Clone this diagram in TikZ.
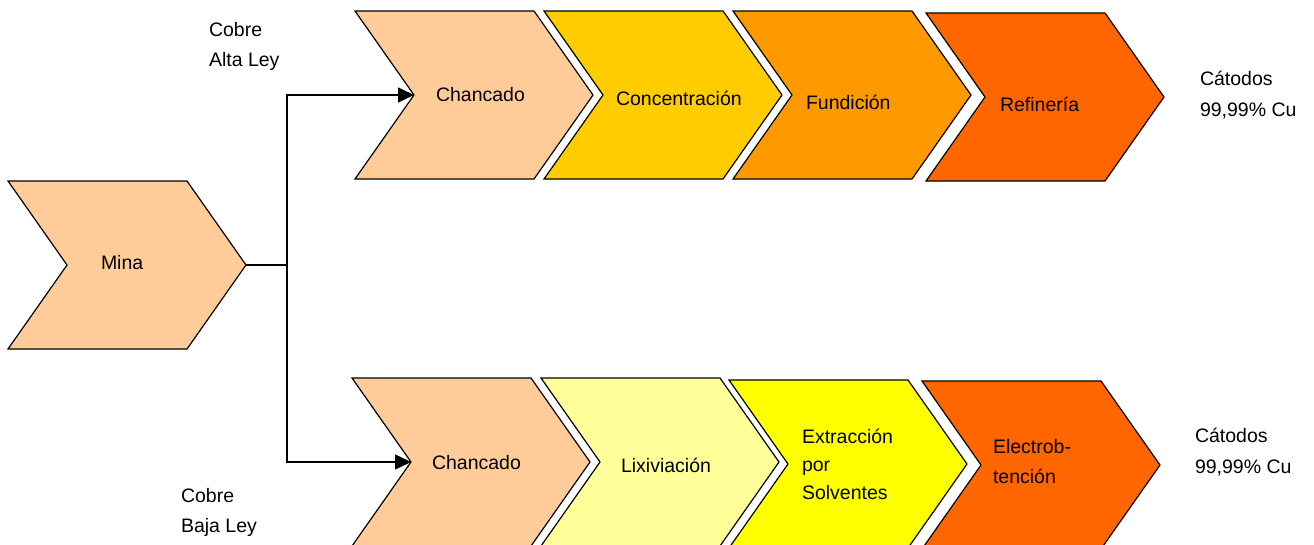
\documentclass[tikz,border=0pt]{standalone}
\usepackage{fontspec}
\setmainfont{Liberation Sans}
\usetikzlibrary{arrows.meta}

\definecolor{peach}{HTML}{FFCC99}
\definecolor{gold}{HTML}{FFCC00}
\definecolor{amber}{HTML}{FF9900}
\definecolor{flame}{HTML}{FF6600}
\definecolor{paleyellow}{HTML}{FFFF99}
\definecolor{brightyellow}{HTML}{FFFF00}

\tikzset{
  % chevron of width 238, notch depth 59, height 168; origin = top-left corner
  pics/chevron/.style={code={
    \path[draw=black, line width=1.2pt, line join=miter, fill=#1]
      (0,0) -- (179,0) -- (238,84) -- (179,168) -- (0,168) -- (59,84) -- cycle;
    \coordinate (-n) at (59,84);
    \coordinate (-t) at (238,84);
  }},
  % base anchor of a multi-line label sits on its last line
  lbl/.style={font=\fontsize{19.5}{30}\selectfont, inner sep=0pt, outer sep=0pt,
              anchor=base west, align=left},
  conn/.style={line width=1.5pt, draw=black},
  feed/.style={conn, -{Triangle[length=16pt,width=15pt]}},
}

\begin{document}
\begin{tikzpicture}[x=1pt,y=-1pt]
\useasboundingbox (0,0) rectangle (1314,544);
\clip (0,0) rectangle (1314,544);

% source
\pic (mina) at (8,181) {chevron=peach};
\node[lbl] (tmina) at (101,269) {Mina};

% high-grade route
\pic (ca) at (355,11) {chevron=peach};
\pic (co) at (544,11) {chevron=gold};
\pic (fu) at (733,11) {chevron=amber};
\pic (re) at (926,13) {chevron=flame};
\node[lbl] (tca) at (436,101) {Chancado};
\node[lbl] (tco) at (616,105) {Concentración};
\node[lbl] (tfu) at (806,109) {Fundición};
\node[lbl] (tre) at (1000,111) {Refinería};

% low-grade route
\pic (cb) at (352,378) {chevron=peach};
\pic (li) at (541,378) {chevron=paleyellow};
\pic (ex) at (729,380) {chevron=brightyellow};
\pic (el) at (922,381) {chevron=flame};
\node[lbl] (tcb) at (432,469) {Chancado};
\node[lbl] (tli) at (621,472) {Lixiviación};
\node[lbl, font=\fontsize{19.5}{28}\selectfont] (tex) at (802,499) {Extracción\\por\\Solventes};
\node[lbl] (tel) at (993,483) {Electrob-\\tención};

% side labels
\node[lbl] (alta) at (209,66) {Cobre\\Alta Ley};
\node[lbl] (baja) at (181,532) {Cobre\\Baja Ley};
\node[lbl, font=\fontsize{19.5}{31}\selectfont] (cat1) at (1200,116) {Cátodos\\99,99\% Cu};
\node[lbl, font=\fontsize{19.5}{31}\selectfont] (cat2) at (1195,473) {Cátodos\\99,99\% Cu};

% branching connector
\coordinate (split) at (287,265);
\draw[conn] (mina-t) -- (split);
\draw[feed] (split) |- (ca-n);
\draw[feed] (split) |- (cb-n);
\end{tikzpicture}
\end{document}
